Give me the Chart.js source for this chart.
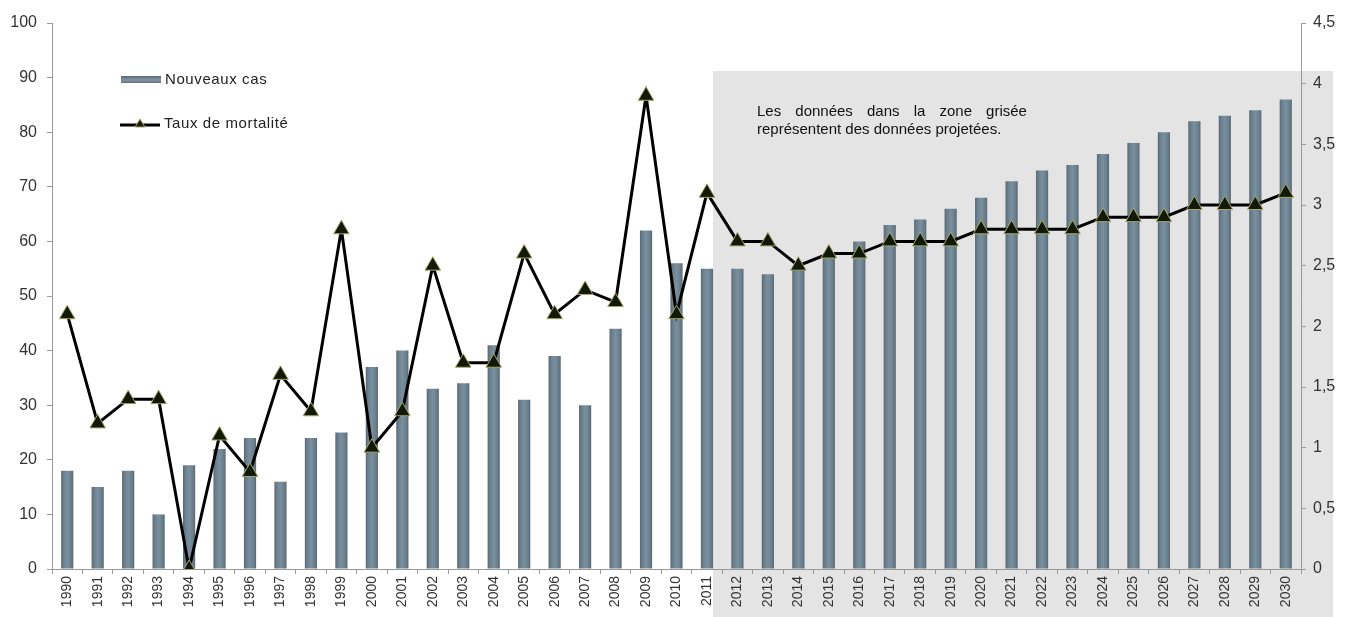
<!DOCTYPE html>
<html>
<head>
<meta charset="utf-8">
<script src="https://cdn.jsdelivr.net/npm/chart.js@4/dist/chart.umd.min.js"></script>
<style>
html,body{margin:0;padding:0;background:#fff;}
#wrap{width:1346px;height:617px;position:relative;}
</style>
</head>
<body>
<div id="wrap"><canvas id="c" width="1346" height="617"></canvas></div>
<script>
const years = ['1990','1991','1992','1993','1994','1995','1996','1997','1998','1999','2000','2001','2002','2003','2004','2005','2006','2007','2008','2009','2010','2011','2012','2013','2014','2015','2016','2017','2018','2019','2020','2021','2022','2023','2024','2025','2026','2027','2028','2029','2030'];
const nouveauxCas = [18,15,18,10,19,22,24,16,24,25,37,40,33,34,41,31,39,30,44,62,56,55,55,54,55,57,60,63,64,66,68,71,73,74,76,78,80,82,83,84,86];
const tauxMortalite = [2.1,1.2,1.4,1.4,0,1.1,0.8,1.6,1.3,2.8,1.0,1.3,2.5,1.7,1.7,2.6,2.1,2.3,2.2,3.9,2.1,3.1,2.7,2.7,2.5,2.6,2.6,2.7,2.7,2.7,2.8,2.8,2.8,2.8,2.9,2.9,2.9,3.0,3.0,3.0,3.1];
const legendLabels = ['Nouveaux cas','Taux de mortalité'];
const noteLines = ['Les données dans la zone grisée','représentent des données projetées.'];
const projectionStartIndex = 21;

const FONT = '"Liberation Sans", Arial, sans-serif';
const BAR_COLOR = '#687c8b';

function barFill(context){
  const chart = context.chart;
  const xs = chart.scales && chart.scales.x;
  if (!xs || !chart.chartArea || context.dataIndex === undefined) return BAR_COLOR;
  const cx = xs.getPixelForValue(context.dataIndex);
  const g = chart.ctx.createLinearGradient(cx - 6.5, 0, cx + 6.5, 0);
  g.addColorStop(0, '#59636d');
  g.addColorStop(0.22, '#6a808f');
  g.addColorStop(0.5, '#7b909f');
  g.addColorStop(0.78, '#6a808f');
  g.addColorStop(1, '#59636d');
  return g;
}

const bgPlugin = {
  id: 'bg',
  beforeDraw(chart){
    const ctx = chart.ctx, x = chart.scales.x, y = chart.scales.y;
    const left = x.getPixelForValue(projectionStartIndex) + 6;
    const top = y.getPixelForValue(91.2);
    ctx.save();
    ctx.fillStyle = '#e4e4e4';
    ctx.fillRect(left, top, chart.width - 13 - left, chart.height - top);
    ctx.restore();
  },
  beforeDatasetsDraw(chart){
    const ctx = chart.ctx, x = chart.scales.x;
    const left = x.getPixelForValue(projectionStartIndex) + 50;
    const width = 270;
    ctx.save();
    ctx.fillStyle = '#111';
    ctx.font = '15px ' + FONT;
    ctx.textBaseline = 'middle';
    const words = noteLines[0].split(' ');
    const wsum = words.reduce((s,w)=>s+ctx.measureText(w).width,0);
    const gap = (width - wsum)/(words.length-1);
    let cx = left;
    words.forEach(w=>{ctx.fillText(w,cx,112); cx += ctx.measureText(w).width + gap;});
    ctx.fillText(noteLines[1], left, 130);
    ctx.restore();
  },
  afterDraw(chart){
    const ctx = chart.ctx;
    ctx.save();
    const g = ctx.createLinearGradient(0,76,0,84);
    g.addColorStop(0,'#56697a'); g.addColorStop(0.5,'#8495a2'); g.addColorStop(1,'#56697a');
    ctx.fillStyle = g;
    ctx.fillRect(121,76,40,7);
    ctx.fillStyle = '#222';
    ctx.font = '15px ' + FONT;
    ctx.textBaseline = 'middle';
    if ('letterSpacing' in ctx) ctx.letterSpacing = '0.6px';
    ctx.fillText(legendLabels[0],165,80);
    ctx.strokeStyle = '#000'; ctx.lineWidth = 3;
    ctx.beginPath(); ctx.moveTo(120,125); ctx.lineTo(160,125); ctx.stroke();
    ctx.fillStyle = '#1a1f0e'; ctx.strokeStyle = '#a8a66a'; ctx.lineWidth = 1;
    ctx.beginPath(); ctx.moveTo(140,119); ctx.lineTo(145,127); ctx.lineTo(135,127); ctx.closePath(); ctx.fill(); ctx.stroke();
    ctx.fillStyle = '#222';
    ctx.fillText(legendLabels[1],164,124);
    ctx.restore();
  }
};

new Chart(document.getElementById('c'), {
  type: 'bar',
  data: {
    labels: years,
    datasets: [
      {
        type: 'line',
        label: legendLabels[1],
        data: tauxMortalite,
        yAxisID: 'y1',
        borderColor: '#000',
        borderWidth: 3,
        tension: 0,
        pointStyle: 'triangle',
        pointRadius: 9,
        pointBackgroundColor: '#111a08',
        pointBorderColor: '#a8a66a',
        pointBorderWidth: 1,
        order: 0
      },
      {
        type: 'bar',
        label: legendLabels[0],
        data: nouveauxCas,
        yAxisID: 'y',
        backgroundColor: barFill,
        barPercentage: 0.4,
        categoryPercentage: 1,
        order: 1
      }
    ]
  },
  options: {
    responsive: false,
    animation: false,
    layout: {padding: {top: 23, left: 0, right: 0, bottom: 0}},
    plugins: {legend: {display: false}, tooltip: {enabled: false}},
    scales: {
      x: {
        offset: true,
        grid: {display: true, drawOnChartArea: false, offset: true, tickLength: 5, color: '#999'},
        border: {color: '#999'},
        ticks: {minRotation: 90, maxRotation: 90, autoSkip: false, padding: 2, color: '#333', font: {family: FONT, size: 14}},
        afterFit(s){ s.height = 48; }
      },
      y: {
        position: 'left',
        min: 0, max: 100,
        ticks: {stepSize: 10, padding: 10, color: '#333', font: {family: FONT, size: 16}},
        grid: {display: true, drawOnChartArea: false, tickLength: 5, color: '#999'},
        border: {color: '#999'},
        afterFit(s){ s.width = 52; }
      },
      y1: {
        position: 'right',
        min: 0, max: 4.5,
        ticks: {stepSize: 0.5, padding: 7, color: '#333', font: {family: FONT, size: 16},
          callback: v => String(Math.round(v*10)/10).replace('.', ',')},
        grid: {display: true, drawOnChartArea: false, tickLength: 5, color: '#999'},
        border: {color: '#999'},
        afterFit(s){ s.width = 45; }
      }
    }
  },
  plugins: [bgPlugin]
});
</script>
</body>
</html>
